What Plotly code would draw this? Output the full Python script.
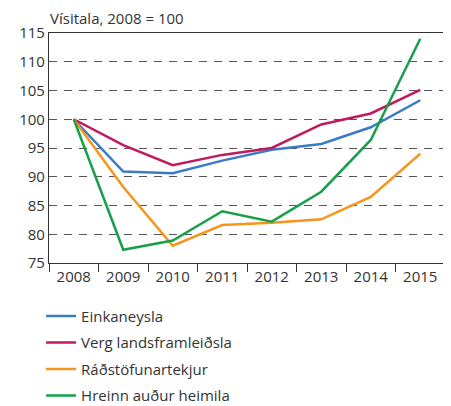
import plotly.graph_objects as go

years = ["2008", "2009", "2010", "2011", "2012", "2013", "2014", "2015"]
einkaneysla = [100, 90.9, 90.6, 92.8, 94.7, 95.7, 98.6, 103.3]
verg_lf = [100, 95.5, 92.0, 93.8, 95.0, 99.1, 101.0, 105.1]
radstofunartekjur = [100, 88.2, 78.0, 81.6, 82.0, 82.6, 86.5, 94.0]
hreinn_audur = [100, 77.3, 78.9, 84.0, 82.2, 87.4, 96.4, 114.0]
y_ticks = [75, 80, 85, 90, 95, 100, 105, 110, 115]

series = [
    ("Einkaneysla", einkaneysla, "#3a7bc8"),
    ("Verg landsframleiðsla", verg_lf, "#c2185e"),
    ("Ráðstöfunartekjur", radstofunartekjur, "#f7941d"),
    ("Hreinn auður heimila", hreinn_audur, "#16a04a"),
]

font_family = "Open Sans, DejaVu Sans, sans-serif"
txt = "#333333"

fig = go.Figure()
for i, (name, vals, col) in enumerate(series):
    fig.add_trace(go.Scatter(
        x=years, y=vals, name=name, mode="lines",
        line=dict(color=col, width=2.5),
        legendgroup=f"g{i}",
    ))

# page body has an 8px margin, so the figure is sized/offset to compensate
fig.update_layout(
    width=443, height=420,
    margin=dict(l=41, r=6, t=25, b=165, autoexpand=False),
    paper_bgcolor="white", plot_bgcolor="white",
    font=dict(family=font_family, color=txt, size=15),
    showlegend=True,
    legend=dict(
        x=-0.02, xanchor="left", y=-0.16, yanchor="top",
        font=dict(size=15, color=txt),
        tracegroupgap=4,
        bgcolor="rgba(0,0,0,0)",
    ),
    annotations=[dict(
        text="Vísitala, 2008 = 100", xref="paper", yref="paper",
        x=0, y=1, xanchor="left", yanchor="bottom", yshift=3, xshift=-1,
        showarrow=False, font=dict(size=15, color=txt),
    )],
)

fig.update_xaxes(
    type="category", automargin=False,
    showline=True, linecolor="#333333", linewidth=1.2, mirror=True,
    ticks="outside", tickson="boundaries", ticklen=8, tickcolor="#333333", tickwidth=1.2,
    showgrid=False,
    tickfont=dict(size=15, color=txt),
    range=[-0.5, 7.5],
)
fig.update_yaxes(
    range=[75, 115], tickvals=y_ticks, automargin=False,
    showline=True, linecolor="#333333", linewidth=1.2, mirror=True,
    ticks="", showgrid=True, gridcolor="#555555", gridwidth=1.2, griddash="8px,7px",
    tickfont=dict(size=15, color=txt),
    zeroline=False,
)

fig.write_html("out.html")
